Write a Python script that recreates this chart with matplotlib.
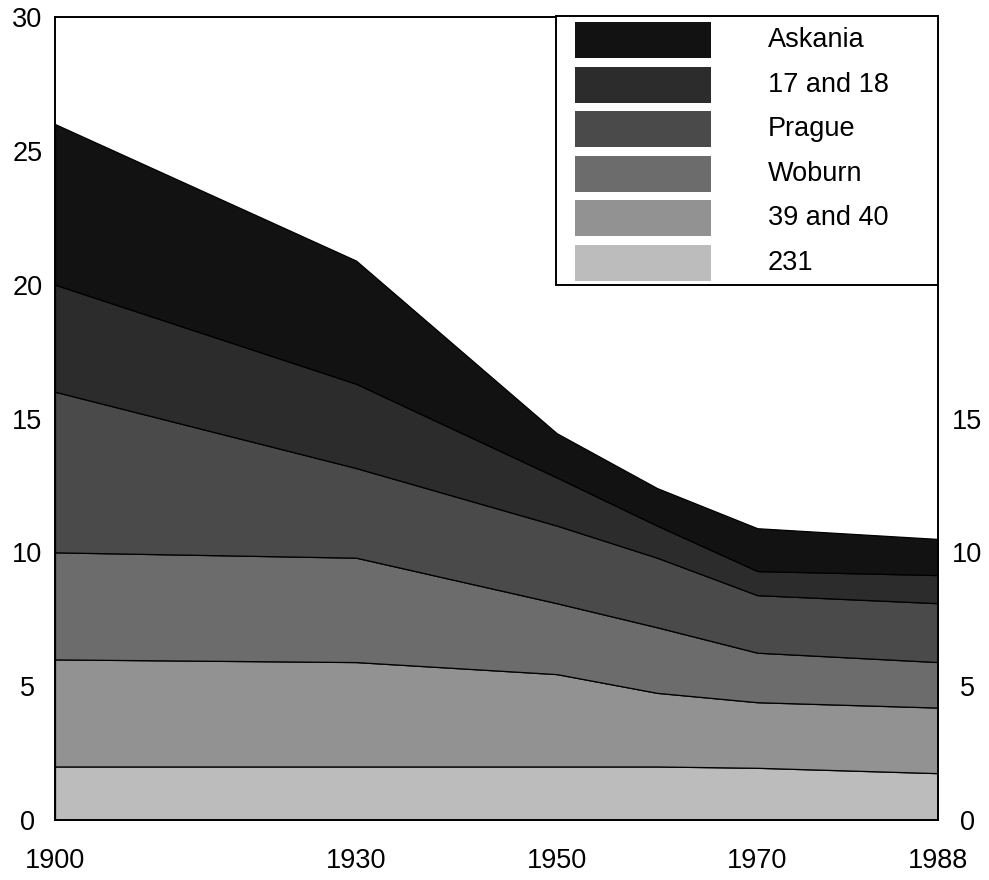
import matplotlib
matplotlib.use("Agg")
import matplotlib.pyplot as plt
from matplotlib.patches import Rectangle

plt.rcParams['font.family'] = ['Liberation Sans', 'DejaVu Sans']

# ---- data ----
years = [1900, 1930, 1950, 1960, 1970, 1988]
names = ["231", "39 and 40", "Woburn", "Prague", "17 and 18", "Askania"]
s231 = [2.0, 2.0, 2.0, 2.0, 1.95, 1.75]
s3940 = [4.0, 3.9, 3.45, 2.75, 2.45, 2.45]
woburn = [4.0, 3.9, 2.65, 2.45, 1.85, 1.7]
prague = [6.0, 3.35, 2.9, 2.6, 2.15, 2.2]
s1718 = [4.0, 3.15, 1.8, 1.2, 0.9, 1.05]
askania = [6.0, 4.6, 1.65, 1.4, 1.6, 1.35]
xticks = [1900, 1930, 1950, 1970, 1988]
yticks_left = [0, 5, 10, 15, 20, 25, 30]
yticks_right = [0, 5, 10, 15]

colors = ["#bcbcbc", "#929292", "#6c6c6c", "#4a4a4a", "#2c2c2c", "#121212"]

W, H = 989, 880
fig = plt.figure(figsize=(W / 100, H / 100), dpi=100)
L, R, B, T = 55, 938, 820, 17
ax = fig.add_axes([L / W, (H - B) / H, (R - L) / W, (B - T) / H])

series = [s231, s3940, woburn, prague, s1718, askania]
ax.stackplot(years, *series, colors=colors, edgecolor="black", linewidth=0.9)

ax.set_xlim(1900, 1988)
ax.set_ylim(0, 30)
ax.set_xticks(xticks)
ax.set_yticks(yticks_left)
fs = 19.5
ax.tick_params(axis="x", length=0, pad=20, labelsize=fs)
ax.tick_params(axis="y", length=0, pad=20, labelsize=fs)
for lab in ax.get_yticklabels():
    lab.set_horizontalalignment("center")
for sp in ax.spines.values():
    sp.set_linewidth(1.4)
    sp.set_color("black")

ax2 = ax.twinx()
ax2.set_ylim(0, 30)
ax2.set_yticks(yticks_right)
ax2.tick_params(axis="y", length=0, pad=21, labelsize=fs)
for lab in ax2.get_yticklabels():
    lab.set_horizontalalignment("center")
for sp in ax2.spines.values():
    sp.set_visible(False)

# ---- legend (manual, in axes fraction) ----
def fx(px):
    return (px - L) / (R - L)

def fy(py):
    return (B - py) / (B - T)

box = Rectangle((fx(556), fy(285)), fx(938) - fx(556), fy(16) - fy(285),
                transform=ax.transAxes, facecolor="white", edgecolor="black",
                linewidth=1.4, zorder=5, clip_on=False)
ax.add_patch(box)
leg_order = list(range(len(names)))[::-1]
for i, k in enumerate(leg_order):
    cy = 40 + 44.6 * i
    sw = Rectangle((fx(575), fy(cy + 18)), fx(711) - fx(575), fy(cy - 18) - fy(cy + 18),
                   transform=ax.transAxes, facecolor=colors[k], edgecolor="none",
                   zorder=6, clip_on=False)
    ax.add_patch(sw)
    ax.text(fx(768), fy(cy), names[k], transform=ax.transAxes, fontsize=fs,
            va="center", ha="left", zorder=7)

fig.savefig("out.png", dpi=100)
